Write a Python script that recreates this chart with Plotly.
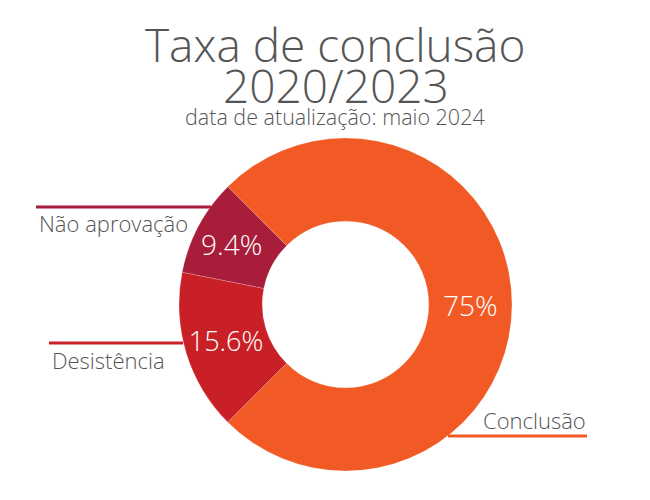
import plotly.graph_objects as go

# data
labels = ["Conclusão", "Desistência", "Não aprovação"]
values = [75.0, 15.6, 9.4]
colors = ["#F15A24", "#C92027", "#A81D3A"]

title_line1 = "Taxa de conclusão"
title_line2 = "2020/2023"
subtitle = "data de atualização: maio 2024"

FONT = "Open Sans"
GREY = "#555555"
W, H = 650, 500


def px(x):
    # page pixel -> paper x (page has an 8px body margin)
    return (x - 8) / W


def py(y):
    return 1 - (y - 8) / H


fig = go.Figure()
fig.add_trace(go.Pie(
    labels=labels,
    values=values,
    hole=0.5,
    sort=False,
    direction="clockwise",
    rotation=-45,
    marker=dict(colors=colors, line=dict(color="rgba(255,255,255,0.4)", width=0.5)),
    textinfo="percent",
    textposition="inside",
    insidetextorientation="horizontal",
    textfont=dict(family=FONT, size=28, color="white", weight=300),
    showlegend=False,
    hoverinfo="label+percent",
    domain=dict(x=[px(179), px(512)], y=[py(472), py(137)]),
))

# titles
fig.add_annotation(text=title_line1, x=px(335), y=py(44), xref="paper", yref="paper",
                   xanchor="center", yanchor="middle", showarrow=False,
                   font=dict(family=FONT, size=46, color=GREY, weight=300))
fig.add_annotation(text=title_line2, x=px(336), y=py(85), xref="paper", yref="paper",
                   xanchor="center", yanchor="middle", showarrow=False,
                   font=dict(family=FONT, size=46, color=GREY, weight=300))
fig.add_annotation(text=subtitle, x=px(335), y=py(117), xref="paper", yref="paper",
                   xanchor="center", yanchor="middle", showarrow=False,
                   font=dict(family=FONT, size=21.5, color=GREY, weight=300))

# outside labels with leader lines
fig.add_annotation(text=labels[2], x=px(37), y=py(223), xref="paper", yref="paper",
                   xanchor="left", yanchor="middle", showarrow=False,
                   font=dict(family=FONT, size=22, color=GREY, weight=300))
fig.add_shape(type="line", xref="paper", yref="paper",
              x0=px(36), x1=px(211), y0=py(207), y1=py(207),
              line=dict(color=colors[2], width=3))

fig.add_annotation(text=labels[1], x=px(50), y=py(360), xref="paper", yref="paper",
                   xanchor="left", yanchor="middle", showarrow=False,
                   font=dict(family=FONT, size=22, color=GREY, weight=300))
fig.add_shape(type="line", xref="paper", yref="paper",
              x0=px(49), x1=px(183), y0=py(343), y1=py(343),
              line=dict(color=colors[1], width=3))

fig.add_annotation(text=labels[0], x=px(588), y=py(420), xref="paper", yref="paper",
                   xanchor="right", yanchor="middle", showarrow=False,
                   font=dict(family=FONT, size=22, color=GREY, weight=300))
fig.add_shape(type="line", xref="paper", yref="paper",
              x0=px(448), x1=px(587), y0=py(436), y1=py(436),
              line=dict(color=colors[0], width=3))

fig.update_layout(
    width=W, height=H,
    margin=dict(l=0, r=0, t=0, b=0),
    paper_bgcolor="white",
    plot_bgcolor="white",
)

fig.write_html("out.html")
